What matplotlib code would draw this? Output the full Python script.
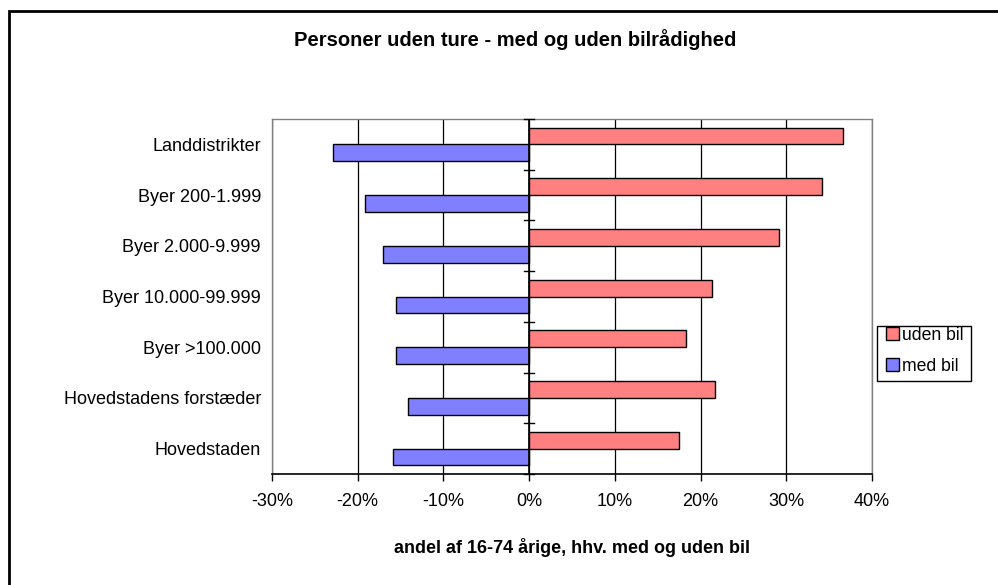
import matplotlib.pyplot as plt
import numpy as np
from matplotlib.patches import Rectangle
from matplotlib.ticker import FixedLocator, FuncFormatter

plt.rcParams['font.family'] = ['Liberation Sans', 'DejaVu Sans']
plt.rcParams['axes.unicode_minus'] = False

categories = [
    'Hovedstaden',
    'Hovedstadens forstæder',
    'Byer >100.000',
    'Byer 10.000-99.999',
    'Byer 2.000-9.999',
    'Byer 200-1.999',
    'Landdistrikter',
]
uden_bil = [17.5, 21.7, 18.3, 21.3, 29.1, 34.2, 36.6]
med_bil = [-15.9, -14.1, -15.5, -15.5, -17.0, -19.1, -22.9]
x_ticks = [-30, -20, -10, 0, 10, 20, 30, 40]

W, H = 998, 585
fig = plt.figure(figsize=(W / 100, H / 100), dpi=100)
ax = fig.add_axes([272 / W, 1 - 474 / H, 600 / W, 355 / H])

y = np.arange(len(categories))
h = 0.33
ax.barh(y + h / 2, uden_bil, height=h, color='#ff8080', edgecolor='black',
        linewidth=1.0, label='uden bil', zorder=3)
ax.barh(y - h / 2, med_bil, height=h, color='#8080ff', edgecolor='black',
        linewidth=1.0, label='med bil', zorder=3)

ax.set_xlim(-30, 40)
ax.set_ylim(-0.5, len(categories) - 0.5)
ax.xaxis.set_major_locator(FixedLocator(x_ticks))
ax.xaxis.set_major_formatter(FuncFormatter(lambda v, _: f'{v:.0f}%'))
ax.grid(axis='x', color='black', linewidth=0.9, zorder=0)
ax.tick_params(axis='x', direction='out', length=5, width=1, pad=9, labelsize=13)

# category labels sit left of the plot; the zero line carries the cross ticks
ax.set_yticks(y)
ax.set_yticklabels(categories)
ax.tick_params(axis='y', length=0, pad=8, labelsize=13)
for b in np.arange(-0.5, len(categories), 1.0):
    ax.plot([-0.6, 0.6], [b, b], color='black', linewidth=1.0, zorder=4,
            clip_on=False)
ax.axvline(0, color='black', linewidth=1.2, zorder=4)

for side in ('left', 'right', 'top'):
    ax.spines[side].set_color('#808080')
    ax.spines[side].set_linewidth(1.0)
ax.spines['bottom'].set_color('black')
ax.spines['bottom'].set_linewidth(1.2)

ax.set_xlabel('andel af 16-74 årige, hhv. med og uden bil', fontsize=13,
              fontweight='bold', labelpad=19.5)
fig.text(515 / W, 1 - 40 / H, 'Personer uden ture - med og uden bilrådighed',
         ha='center', va='center', fontsize=14.5, fontweight='bold')

# legend entries without frame; the box is drawn separately to get its size
leg = ax.legend(loc='center left', bbox_to_anchor=(879 / W, 1 - 351 / H),
                bbox_transform=fig.transFigure, frameon=False,
                fontsize=12.7, handlelength=0.75, handleheight=0.75,
                handletextpad=0.15, labelspacing=0.8, borderpad=0.4,
                borderaxespad=0)
fig.patches.append(Rectangle((877 / W, 1 - 381 / H), 94 / W, 55 / H,
                             transform=fig.transFigure, fill=False,
                             edgecolor='black', linewidth=1.0))

# chart frame
fig.patches.append(Rectangle((9 / W, -0.1), 1.2, 1.1 - 11 / H,
                             transform=fig.transFigure, fill=False,
                             edgecolor='black', linewidth=2.0))

fig.savefig('out.png', dpi=100)
